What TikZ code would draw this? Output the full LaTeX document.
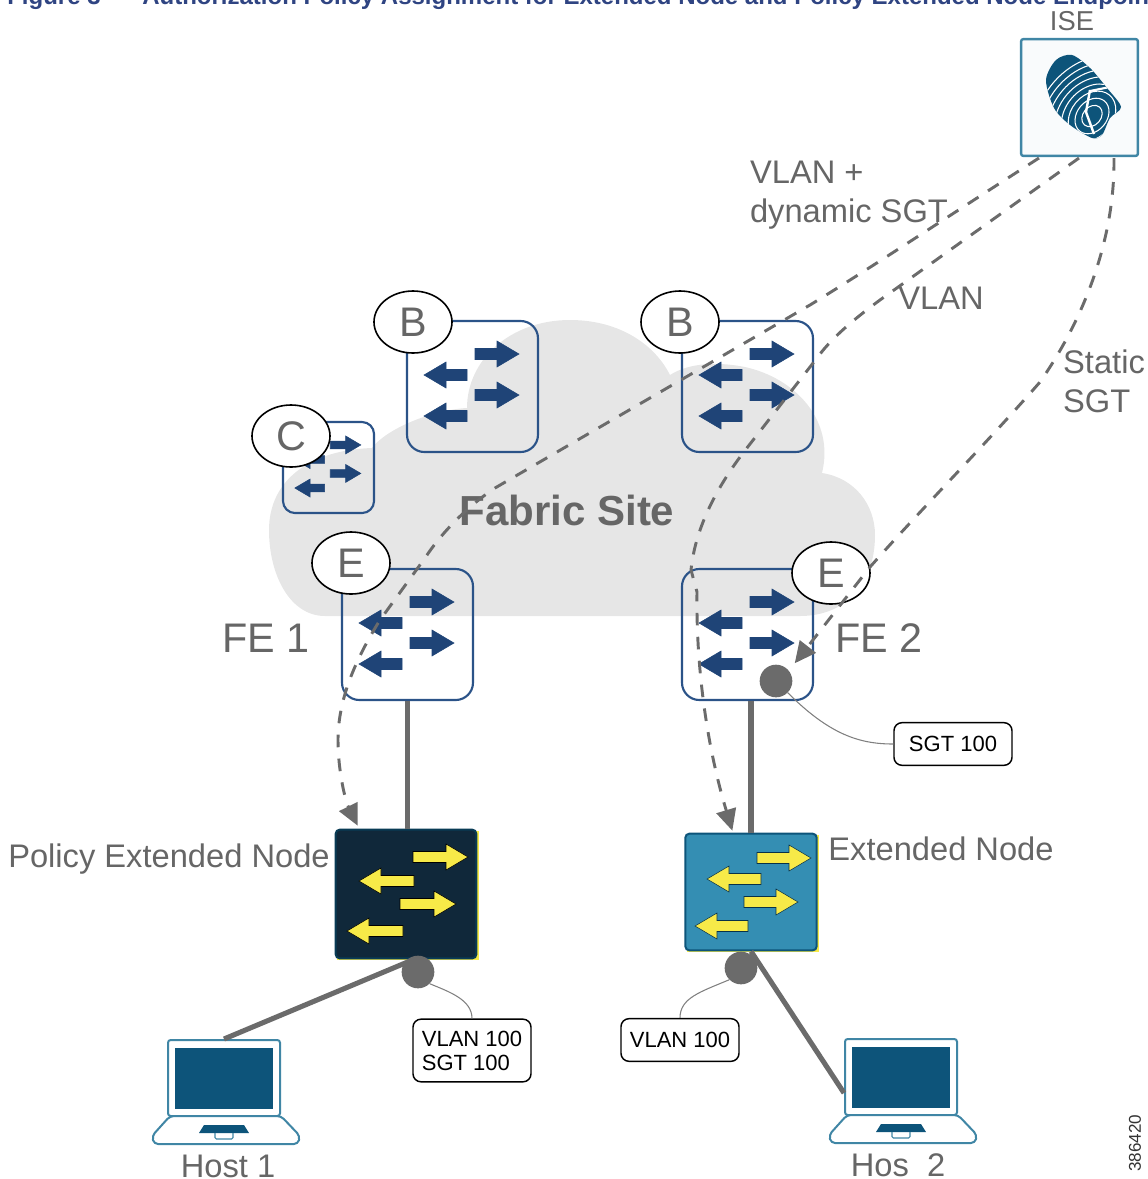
\documentclass[tikz,border=0pt]{standalone}
\usepackage{fontspec}
\setmainfont{Liberation Sans}
\usetikzlibrary{arrows.meta, calc, positioning, shapes.geometric}
\definecolor{cloudgray}{RGB}{230,230,230}
\definecolor{labelgray}{RGB}{102,102,102}
\definecolor{linkgray}{RGB}{107,107,107}
\definecolor{switchblue}{RGB}{43,83,136}
\definecolor{arrownavy}{RGB}{31,68,119}
\definecolor{iseteal}{RGB}{64,134,165}
\definecolor{printblue}{RGB}{13,84,122}
\definecolor{pendark}{RGB}{16,40,58}
\definecolor{enblue}{RGB}{52,142,179}
\definecolor{flowyellow}{RGB}{247,234,72}
\definecolor{titleblue}{RGB}{47,68,130}
\tikzset{
    fabricswitch/.style={draw=switchblue, line width=1.6pt, rounded corners=13pt, inner sep=0pt},
    roleoval/.style={ellipse, draw=black, fill=white, line width=1.2pt, inner sep=0pt, minimum width=58.5pt, minimum height=46.5pt, text=labelgray, font=\fontsize{31}{31}\selectfont},
    graylabel/.style={text=labelgray, inner sep=0pt, font=\fontsize{24.5}{29.3}\selectfont},
    bigLabel/.style={text=labelgray, inner sep=0pt, font=\fontsize{31}{31}\selectfont},
    tagbox/.style={draw=black, line width=1.1pt, rounded corners=6pt, fill=white, inner sep=0pt, minimum width=88.5pt, font=\fontsize{16.5}{18}\selectfont},
    linkline/.style={linkgray, line width=3.8pt},
    flowline/.style={linkgray, line width=2.2pt, dash pattern=on 9.5pt off 8.5pt, -{Triangle[length=16pt,width=15pt]}},
    tagline/.style={gray, line width=0.8pt},
    attachdot/.style={circle, fill=linkgray, inner sep=0pt, minimum size=24.5pt},
    nodebox/.style={rounded corners=3pt, line width=1.5pt, inner sep=0pt},
    laptoplid/.style={draw=iseteal, fill=white, line width=1.5pt, rounded corners=2pt, inner sep=0pt, minimum width=84pt, minimum height=57pt}
}
% style, tail x, tip x, y
\newcommand{\flowarrow}[4]{
    \pgfmathsetmacro{\headx}{#3+(#2<#3 ? -22 : 22)}
    \draw[#1] (#2,#4-5.5) -- (\headx,#4-5.5) -- (\headx,#4-13) -- (#3,#4) -- (\headx,#4+13) -- (\headx,#4+5.5) -- (#2,#4+5.5) -- cycle;
}
\begin{document}
\begin{tikzpicture}[x=0.75pt, y=-0.75pt]
    \useasboundingbox (0,0) rectangle (1147,1179);

    % Caption cut by the page edge
    \node[anchor=base west, inner sep=0pt, text=titleblue, font=\bfseries\fontsize{18}{18}\selectfont] (caption) at (7,4) {Figure 3};
    \node[anchor=base west, inner sep=0pt, text=titleblue, font=\bfseries\fontsize{18}{18}\selectfont] (captiontext) at (142,4) {Authorization Policy Assignment for Extended Node and Policy Extended Node Endpoints};

    % Cloud
    \fill[cloudgray] (269,530) .. controls (269,480) and (310,450) .. (372,448)
        .. controls (385,430) and (430,410) .. (467,408)
        .. controls (467,360) and (510,320) .. (570,320)
        .. controls (620,320) and (655,345) .. (670,375)
        .. controls (690,362) and (720,362) .. (745,367)
        .. controls (795,378) and (835,420) .. (822,473)
        .. controls (855,478) and (875,505) .. (875,535)
        .. controls (875,585) and (845,616) .. (800,616)
        -- (325,616) .. controls (290,616) and (269,575) .. (269,530) -- cycle;
    \node[bigLabel, font=\bfseries\fontsize{31.5}{31.5}\selectfont] (fabric) at (567,510) {Fabric Site};

    % Fabric switches
    \foreach \sw/\x/\y/\s in {b1/407/321/1, b2/682/321/1, cp/283/422/0.695, fe1/342/569/1, fe2/682/569/1} {
        \node[fabricswitch, minimum size=\s*98.25pt, rounded corners=\s*13pt] (\sw) at (\x+\s*65.5,\y+\s*65.5) {};
        \begin{scope}[shift={(\x,\y)}, scale=\s]
            \flowarrow{fill=arrownavy, draw=arrownavy}{68}{112}{33}
            \flowarrow{fill=arrownavy, draw=arrownavy}{60}{17}{54}
            \flowarrow{fill=arrownavy, draw=arrownavy}{68}{112}{74}
            \flowarrow{fill=arrownavy, draw=arrownavy}{60}{17}{95}
        \end{scope}
    }
    \node[roleoval] (roleb1) at (413,322) {B};
    \node[roleoval] (roleb2) at (680,322) {B};
    \node[roleoval] (rolec) at (291,436) {C};
    \node[roleoval] (rolee1) at (351,563) {E};
    \node[roleoval] (rolee2) at (831,573) {E};
    \node[bigLabel] (fe1label) at (266,638) {FE 1};
    \node[bigLabel] (fe2label) at (879,638) {FE 2};

    % ISE with fingerprint
    \node[draw=iseteal, fill=white!97!iseteal, line width=1.8pt, rounded corners=1.5pt, inner sep=0pt, minimum size=87.5pt] (ise) at (1079.5,97.5) {};
    \begin{scope}
        \clip plot[smooth cycle] coordinates {(1046,80) (1056,60) (1072,55) (1090,68) (1107,88) (1121,107) (1110,118) (1102,135) (1092,138) (1070,125) (1054,108)};
        \fill[printblue] (1040,50) rectangle (1125,140);
        \foreach \r in {9,15,21,27,33,39,45,51} {
            \draw[white, line width=0.8pt, rotate around={50:(1092,116)}] (1092,116) ellipse ({\r*1.3} and \r);
        }
        \draw[white, line width=1.8pt] (1090,90) -- (1086,112) -- (1094,134);
        \draw[white, line width=1.6pt] (1090,91) -- (1110,87);
    \end{scope}
    \node[graylabel, font=\fontsize{20.5}{20.5}\selectfont] (iselabel) at (1072,21) {ISE};

    % Access nodes
    \fill[flowyellow] (337,831) rectangle (479,960);
    \node[nodebox, draw=printblue!70!black, fill=pendark, minimum width=105.5pt, minimum height=96.5pt] (pen) at (406,894) {};
    \flowarrow{fill=flowyellow, draw=black}{413}{468}{857}
    \flowarrow{fill=flowyellow, draw=black}{414}{359}{881}
    \flowarrow{fill=flowyellow, draw=black}{400}{456}{904}
    \flowarrow{fill=flowyellow, draw=black}{403}{347}{931}
    \node[graylabel] (penlabel) at (169,859) {Policy Extended Node};

    \fill[flowyellow] (687,835) rectangle (819,952);
    \node[nodebox, draw=printblue, fill=enblue, minimum width=98.5pt, minimum height=87.5pt] (en) at (751,892) {};
    \flowarrow{fill=flowyellow, draw=printblue!60!black}{757}{811}{858}
    \flowarrow{fill=flowyellow, draw=printblue!60!black}{761}{707}{879}
    \flowarrow{fill=flowyellow, draw=printblue!60!black}{744}{798}{902}
    \flowarrow{fill=flowyellow, draw=printblue!60!black}{748}{695}{926}
    \node[graylabel] (enlabel) at (941,849) {Extended Node};

    % Hosts
    \foreach \host/\x/\y in {host1/224/1078, host2/901/1077} {
        \node[laptoplid] (\host) at (\x,\y) {};
        \begin{scope}[shift={(\x,\y)}]
            \fill[printblue] (-49,-30) rectangle (49,31);
            \draw[iseteal, fill=white, line width=1.5pt, rounded corners=3pt] (-54,38) -- (57,38) -- (76,58) -- (74,66) -- (-70,66) -- (-72,58) -- cycle;
            \fill[printblue] (-20,47) -- (20,47) -- (25,55) -- (-25,55) -- cycle;
            \draw[iseteal, line width=0.8pt, rounded corners=1pt] (-9,55) -- (-9,61) -- (9,61) -- (9,55);
        \end{scope}
    }
    \node[graylabel] (host1label) at (228,1166) {Host 1};
    \node[graylabel] (host2label) at (898,1165) {Hos\ \ 2};

    % Wired links
    \draw[linkline] (fe1.south) -- (fe1.south |- pen.north);
    \draw[linkline] (en.north |- fe2.south) -- (en.north);
    \draw[linkline] ($(pen.south)+(8,0)$) -- (host1.north);
    \draw[linkline] (en.south) -- ($(host2.west)+(0,16)$);

    % Attachment points and tags
    \node[attachdot] (fe2dot) at (776,681) {};
    \node[attachdot] (pendot) at (418,972) {};
    \node[attachdot] (endot) at (741,968) {};
    \node[tagbox, minimum height=32pt] (fe2tag) at (953,744) {SGT 100};
    \node[tagbox, minimum height=47pt, align=left] (pentag) at (472,1050.5) {VLAN 100\\SGT 100};
    \node[tagbox, minimum height=32pt] (entag) at (680,1040) {VLAN 100};
    \draw[tagline] (fe2dot.south east) .. controls (830,735) and (860,744) .. (fe2tag.west);
    \draw[tagline] (pendot.south east) .. controls (450,992) and (472,1000) .. (pentag.north);
    \draw[tagline] (endot.south west) .. controls (700,992) and (680,998) .. (entag.north);

    % Authorization flows from ISE
    \draw[flowline] ($(ise.south west)+(19,1)$) .. controls (950,215) and (880,262) .. (810,305) -- (495,488)
        .. controls (465,508) and (440,535) .. (425,558) -- (380,620)
        .. controls (355,660) and (338,700) .. (338,740)
        .. controls (338,770) and (345,800) .. ($(pen.north west)+(23,-3)$);
    \draw[flowline] ($(ise.south west)+(59,1)$) -- (880,300) .. controls (850,322) and (830,340) .. (817,358) -- (743,453)
        .. controls (715,490) and (695,530) .. (691,570) -- (697,592)
        .. controls (696,660) and (705,740) .. ($(en.north west)+(48,-2)$);
    \draw[flowline] ($(ise.south west)+(94,1)$) .. controls (1115,230) and (1090,310) .. (1040,382)
        .. controls (985,445) and (925,505) .. (870,567) -- ($(fe2dot.north east)+(7,-6)$);

    % Flow labels
    \node[graylabel, align=left] (dynlabel) at (849,195) {VLAN +\\dynamic SGT};
    \node[graylabel] (vlanlabel) at (941,298) {VLAN};
    \node[graylabel, align=left] (staticlabel) at (1104,381.5) {Static\\SGT};

    % Drawing number
    \node[rotate=90, inner sep=0pt, text=black!80, font=\fontsize{12.8}{12.8}\selectfont] (drawnum) at (1135,1143) {386420};
\end{tikzpicture}
\end{document}
